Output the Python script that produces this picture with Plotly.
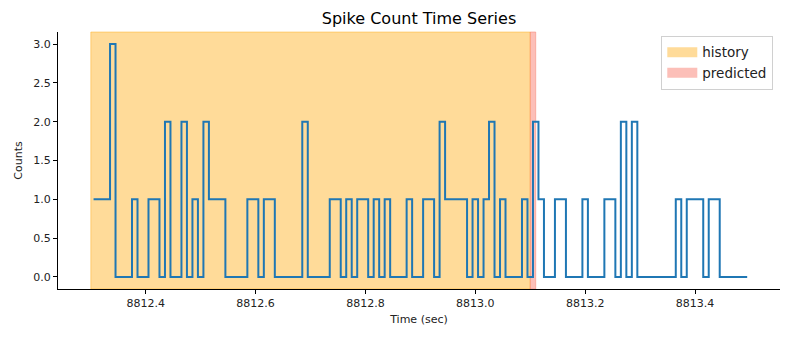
import numpy as np
import plotly.graph_objects as go

# ---- data ----
counts = [1, 1, 1, 3, 0, 0, 0, 1, 0, 0,
          1, 1, 0, 2, 0, 0, 2, 0, 1, 0,
          2, 1, 1, 1, 0, 0, 0, 0, 1, 1,
          0, 1, 1, 0, 0, 0, 0, 0, 2, 0,
          0, 0, 0, 1, 1, 0, 1, 0, 1, 1,
          0, 1, 0, 1, 0, 0, 0, 1, 0, 0,
          1, 1, 0, 2, 1, 1, 1, 1, 0, 1,
          0, 1, 2, 0, 1, 0, 0, 0, 1, 0,
          2, 1, 0, 0, 1, 1, 0, 0, 0, 1,
          0, 0, 0, 1, 1, 0, 2, 0, 2, 0,
          0, 0, 0, 0, 0, 0, 1, 0, 1, 1,
          1, 0, 1, 1, 0, 0, 0, 0, 0, 0]
first_bin_time = 8812.305
bin_width = 0.01
times = np.round(first_bin_time + bin_width * np.arange(len(counts)), 3)

history_window = [8812.30, 8813.10]
predicted_window = [8813.10, 8813.11]

x_ticks = [8812.4, 8812.6, 8812.8, 8813.0, 8813.2, 8813.4]
y_ticks = [0.0, 0.5, 1.0, 1.5, 2.0, 2.5, 3.0]

hist_fill = "rgba(255,165,0,0.4)"
pred_fill = "rgba(250,128,114,0.5)"

fig = go.Figure()

# spans
fig.add_shape(type="rect", xref="x", yref="y domain",
              x0=history_window[0], x1=history_window[1], y0=0, y1=1,
              fillcolor=hist_fill, line=dict(color=hist_fill, width=1), layer="below")
fig.add_shape(type="rect", xref="x", yref="y domain",
              x0=predicted_window[0], x1=predicted_window[1], y0=0, y1=1,
              fillcolor=pred_fill, line=dict(color=pred_fill, width=1), layer="below")

fig.add_trace(go.Scatter(x=times, y=counts, mode="lines", line_shape="hv",
                         line=dict(color="#1f77b4", width=2), showlegend=False))

# legend proxies (thick line icon = patch)
fig.add_trace(go.Scatter(x=[None], y=[None], mode="lines", name="history",
                         line=dict(color=hist_fill, width=10)))
fig.add_trace(go.Scatter(x=[None], y=[None], mode="lines", name="predicted",
                         line=dict(color=pred_fill, width=10)))

xmin = history_window[0]
xmax = float(times[-1])
pad = 0.05 * (xmax - xmin)

fig.update_layout(
    width=790, height=340,
    margin=dict(l=57.5, r=10, t=32, b=51),
    paper_bgcolor="white", plot_bgcolor="white",
    font=dict(family="DejaVu Sans", size=11, color="#222"),
    title=dict(text="Spike Count Time Series", x=0.5, xref="paper", xanchor="center",
               y=1 - 18 / 340, yanchor="middle",
               font=dict(size=16, color="#000")),
    legend=dict(x=0.9907, xanchor="right", y=0.985, yanchor="top",
                bgcolor="white", bordercolor="#d0d0d0", borderwidth=1,
                font=dict(size=13.5, color="#222"), itemwidth=30,
                tracegroupgap=2),
    xaxis=dict(range=[xmin - pad, xmax + pad], tickvals=x_ticks,
               ticktext=[f"{v:.1f}" for v in x_ticks],
               showgrid=False, zeroline=False, showline=True, linecolor="black",
               linewidth=1, ticks="outside", ticklen=4, tickcolor="black",
               title=dict(text="Time (sec)", standoff=6, font=dict(size=11))),
    yaxis=dict(range=[-0.155, 3.155], tickvals=y_ticks,
               ticktext=[f"{v:.1f}" for v in y_ticks],
               showgrid=False, zeroline=False, showline=True, linecolor="black",
               linewidth=1, ticks="outside", ticklen=4, tickcolor="black",
               title=dict(text="Counts", standoff=8, font=dict(size=11))),
)

fig.write_html("out.html")
